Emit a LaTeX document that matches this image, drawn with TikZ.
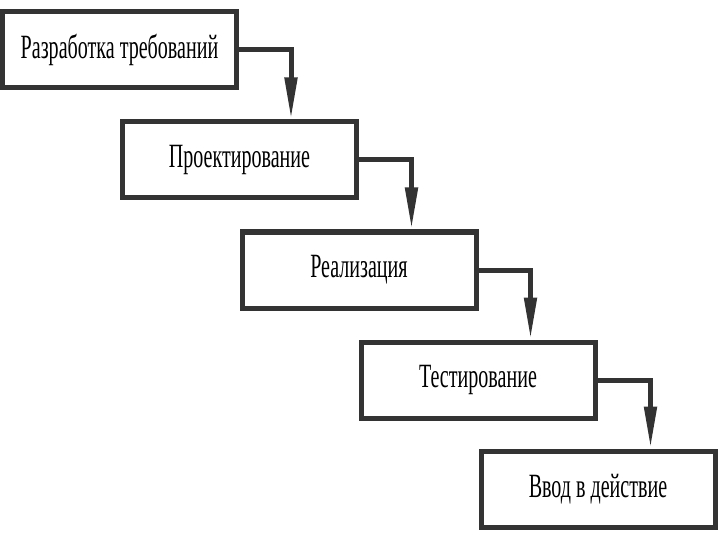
\documentclass[tikz,border=0pt]{standalone}
\usepackage{fontspec}
\usepackage{graphicx}
\setmainfont{Liberation Serif}
\usetikzlibrary{arrows.meta}
\definecolor{ln}{HTML}{333333}
\tikzset{
  stage/.style={draw=ln, line width=5pt, fill=white, minimum width=234pt, minimum height=76pt, inner sep=0pt, font=\fontsize{34}{38}\selectfont},
  conn/.style={draw=ln, line width=5pt, -{Triangle[length=42pt,width=12pt]}}
}
\newcommand{\cond}[1]{\scalebox{0.59}[1]{#1}}
\begin{document}
\begin{tikzpicture}[x=1pt,y=-1pt]
\useasboundingbox (0,0) rectangle (720,540);
\node[stage] (r1) at (119.5,50) {\cond{Разработка требований}};
\node[stage] (r2) at (239.5,160) {\cond{Проектирование}};
\node[stage] (r3) at (359,270) {\cond{Реализация}};
\node[stage] (r4) at (478,380) {\cond{Тестирование}};
\node[stage] (r5) at (598,489) {\cond{Ввод в действие}};
\draw[conn] (r1.east) -| ([xshift=171pt]r2.north west);
\draw[conn] (r2.east) -| ([xshift=172pt]r3.north west);
\draw[conn] (r3.east) -| ([xshift=172pt]r4.north west);
\draw[conn] (r4.east) -| ([xshift=172pt]r5.north west);
\end{tikzpicture}
\end{document}
